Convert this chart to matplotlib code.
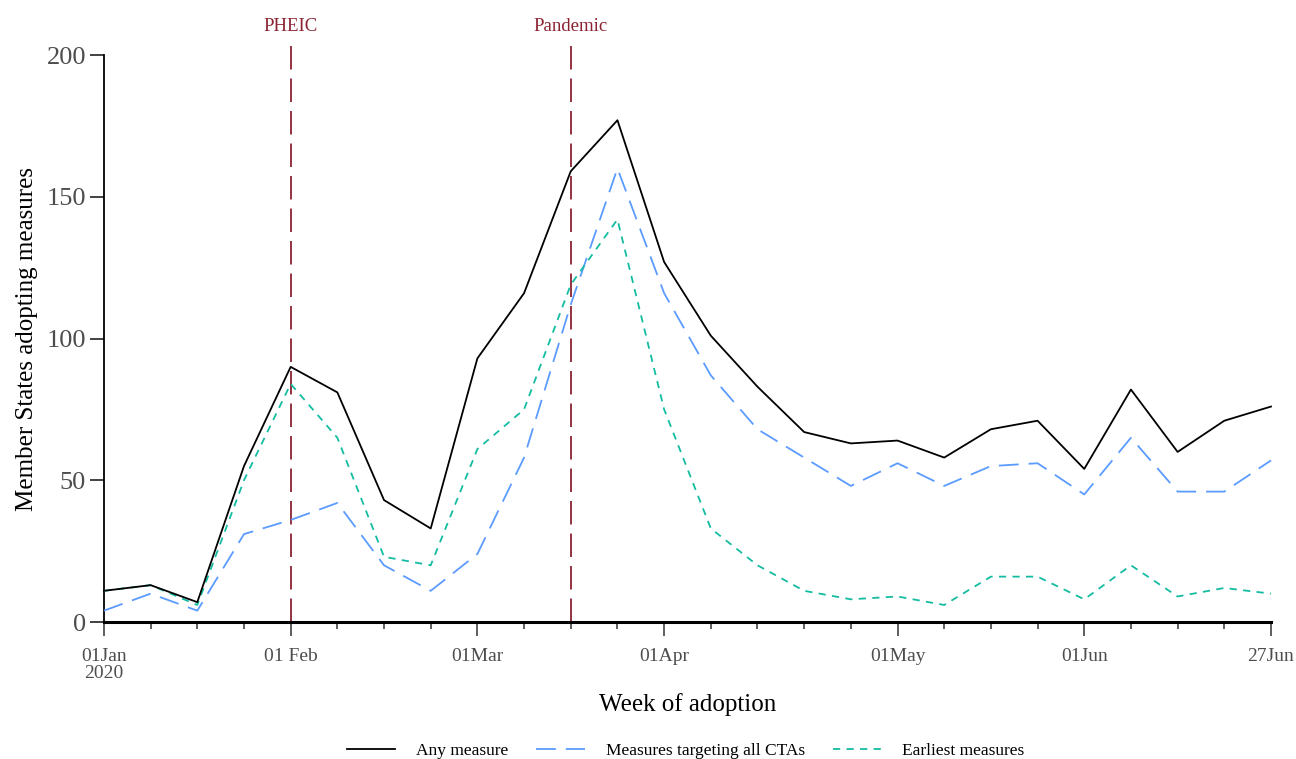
import matplotlib
matplotlib.use("Agg")
import matplotlib.pyplot as plt

# données (une valeur par semaine, 26 semaines)
weeks = list(range(26))
any_measure = [11, 13, 7, 55, 90, 81, 43, 33, 93, 116, 159, 177, 127, 101,
               83, 67, 63, 64, 58, 68, 71, 54, 82, 60, 71, 76]
all_ctas = [4, 10, 4, 31, 36, 42, 20, 11, 24, 58, 112, 160, 116, 87,
            68, 58, 48, 56, 48, 55, 56, 45, 65, 46, 46, 57]
earliest = [11, 13, 6, 50, 84, 65, 23, 20, 61, 75, 119, 142, 75, 33,
            20, 11, 8, 9, 6, 16, 16, 8, 20, 9, 12, 10]

tick_weeks = [0, 4, 8, 12, 17, 21, 25]
tick_labels = ["01Jan\n2020", "01 Feb", "01Mar", "01Apr", "01May", "01Jun", "27Jun"]
event_weeks = [4, 10]
event_labels = ["PHEIC", "Pandemic"]

plt.rcParams['font.family'] = ['Liberation Serif', 'DejaVu Serif']

fig = plt.figure(figsize=(12.96, 7.59), dpi=100)
ax = fig.add_axes([0.0802, 0.1805, 0.9005, 0.747])

c_red = "#8B2232"
ax.plot(weeks, any_measure, color="black", lw=1.3, label="Any measure", clip_on=False, zorder=4)
ax.plot(weeks, all_ctas, color="#5B9BFF", lw=1.3, dashes=(11, 5.5),
        label="Measures targeting all CTAs", clip_on=False, zorder=3)
ax.plot(weeks, earliest, color="#14BCA2", lw=1.3, dashes=(4, 3.5),
        label="Earliest measures", clip_on=False, zorder=3)

# lignes verticales des évènements
for w, lab in zip(event_weeks, event_labels):
    ax.plot([w, w], [0, 205.3], color=c_red, lw=1.3, dashes=(13, 5), clip_on=False, zorder=2)
    ax.text(w, 210, lab, color=c_red, fontsize=13.5, ha="center", va="center")

ax.set_xlim(0, 25)
ax.set_ylim(0, 200)
ax.set_yticks([0, 50, 100, 150, 200])
ax.set_xticks(tick_weeks)
ax.set_xticklabels(tick_labels)
ax.set_xticks(weeks, minor=True)

for s in ["top", "right"]:
    ax.spines[s].set_visible(False)
ax.spines["left"].set_linewidth(1.3)
ax.spines["bottom"].set_linewidth(2.2)

ax.tick_params(axis="y", labelsize=19, labelcolor="#4d4d4d", length=10, width=1.3,
               color="#333333", pad=3)
ax.tick_params(axis="x", which="major", labelsize=14, labelcolor="#4d4d4d", length=10,
               width=1.1, color="#333333", pad=9)
ax.tick_params(axis="x", which="minor", length=5, width=1.1, color="#333333")
for t in ax.get_xticklabels():
    t.set_linespacing(1.0)

ax.set_xlabel("Week of adoption", fontsize=18, labelpad=8)
ax.set_ylabel("Member States adopting measures", fontsize=18, labelpad=6)

fig.legend(loc="center", bbox_to_anchor=(0.529, 0.011), ncol=3, frameon=False,
           fontsize=12.5, handlelength=2.8, handletextpad=1.2, columnspacing=1.6)

plt.savefig("out.png", dpi=100)
